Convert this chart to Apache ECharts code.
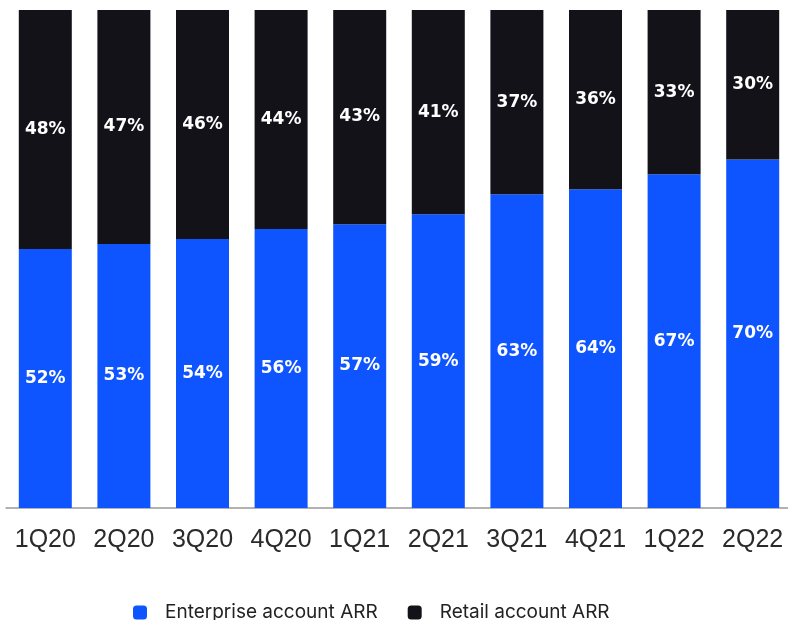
<!DOCTYPE html>
<html>
<head>
<meta charset="utf-8">
<script src="https://cdn.jsdelivr.net/npm/echarts@6/dist/echarts.min.js"></script>
<style>
  html, body { margin: 0; padding: 0; background: #fff; }
  #chart { width: 788px; height: 620px; }
</style>
</head>
<body>
<div id="chart"></div>
<script>
// 季度 & 占比数据
var quarters = ['1Q20', '2Q20', '3Q20', '4Q20', '1Q21', '2Q21', '3Q21', '4Q21', '1Q22', '2Q22'];
var enterpriseShare = [52, 53, 54, 56, 57, 59, 63, 64, 67, 70];
var retailShare = [48, 47, 46, 44, 43, 41, 37, 36, 33, 30];

window.onload = function() {
    draw_chart();
}

function draw_chart() {
    var myChart = echarts.init(document.getElementById('chart'));
    var labelStyle = {
        show: true,
        position: 'inside',
        formatter: '{c}%',
        color: '#fff',
        fontFamily: 'DejaVu Sans',
        fontWeight: 'bold',
        fontSize: 17
    };
    var option = {
        animation: false,
        grid: { left: 6, width: 786, top: 10, height: 498, outerBoundsMode: 'none' },
        legend: {
            left: 128,
            top: 598,
            icon: 'roundRect',
            itemWidth: 14,
            itemHeight: 14,
            itemGap: 30,
            textStyle: {
                fontFamily: 'Inter',
                fontSize: 19,
                color: '#222',
                padding: [0, 0, 0, 13]
            },
            data: ['Enterprise account ARR', 'Retail account ARR']
        },
        xAxis: {
            type: 'category',
            data: quarters,
            axisLine: { lineStyle: { color: '#999', width: 1.5 } },
            axisTick: { show: false },
            axisLabel: {
                interval: 0,
                margin: 20,
                fontFamily: 'Liberation Sans',
                fontSize: 25,
                color: '#2a2a2a'
            }
        },
        yAxis: {
            type: 'value',
            min: 0,
            max: 100,
            show: false
        },
        series: [{
            name: 'Enterprise account ARR',
            type: 'bar',
            stack: 'share',
            barWidth: 53,
            itemStyle: { color: '#0F55FF' },
            label: labelStyle,
            data: enterpriseShare
        }, {
            name: 'Retail account ARR',
            type: 'bar',
            stack: 'share',
            barWidth: 53,
            itemStyle: { color: '#121218' },
            label: labelStyle,
            data: retailShare
        }]
    };
    myChart.setOption(option);
}
</script>
</body>
</html>
